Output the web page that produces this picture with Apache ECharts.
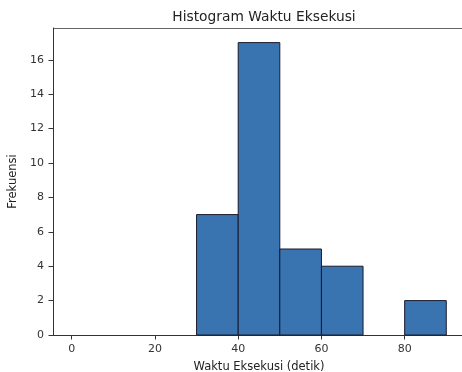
<!DOCTYPE html>
<html><head><meta charset="utf-8">
<script src="https://cdn.jsdelivr.net/npm/echarts@6/dist/echarts.min.js"></script>
<style>html,body{margin:0;padding:0;background:#fff}#c{width:462px;height:372px}</style>
</head><body><div id="c"></div>
<script>
const binStarts = [0, 10, 20, 30, 40, 50, 60, 70, 80];
const binWidth = 10;
const counts = [0, 0, 0, 7, 17, 5, 4, 0, 2];
const xTicks = [0, 20, 40, 60, 80];
const yTicks = [0, 2, 4, 6, 8, 10, 12, 14, 16];
const xMin = -4.5, xMax = 94.5, yMax = 17.85;

const data = binStarts.map((s, i) => [s, s + binWidth, counts[i]]);
const font = 'DejaVu Sans';
const axisColor = '#333';
const chart = echarts.init(document.getElementById('c'));
chart.setOption({
  animation: false,
  title: {
    text: 'Histogram Waktu Eksekusi', left: 259, top: 5, textAlign: 'center',
    textStyle: {fontFamily: font, fontSize: 13.8, fontWeight: 'normal', color: '#222'}
  },
  grid: {left: 53, top: 28, right: -3, bottom: 37, containLabel: false, outerBoundsMode: 'none'},
  xAxis: {
    type: 'value', min: xMin, max: xMax,
    name: 'Waktu Eksekusi (detik)', nameLocation: 'middle', nameGap: 26,
    nameTextStyle: {fontFamily: font, fontSize: 11.5, color: '#222'},
    axisLine: {show: true, onZero: false, lineStyle: {color: axisColor, width: 1}},
    axisTick: {show: true, length: 4.5, customValues: xTicks, lineStyle: {color: axisColor, width: 1}},
    axisLabel: {customValues: xTicks, fontFamily: font, fontSize: 11, color: '#333', margin: 9},
    splitLine: {show: false}
  },
  yAxis: {
    type: 'value', min: 0, max: yMax,
    name: 'Frekuensi', nameLocation: 'middle', nameGap: 27,
    nameTextStyle: {fontFamily: font, fontSize: 11.5, color: '#222'},
    axisLine: {show: true, onZero: false, lineStyle: {color: axisColor, width: 1}},
    axisTick: {show: true, length: 4.5, customValues: yTicks, lineStyle: {color: axisColor, width: 1}},
    axisLabel: {customValues: yTicks, fontFamily: font, fontSize: 11, color: '#333', margin: 9},
    splitLine: {show: false}
  },
  graphic: [{
    type: 'line', shape: {x1: 53, y1: 28.5, x2: 462, y2: 28.5},
    style: {stroke: '#666', lineWidth: 1}
  }],
  series: [{
    type: 'custom',
    data: data,
    renderItem: function (params, api) {
      const p0 = api.coord([api.value(0), api.value(2)]);
      const p1 = api.coord([api.value(1), 0]);
      if (api.value(2) <= 0) return null;
      return {
        type: 'rect',
        shape: {x: p0[0], y: p0[1], width: p1[0] - p0[0], height: p1[1] - p0[1]},
        style: {fill: '#3a74b0', stroke: '#1a1a2a', lineWidth: 1}
      };
    },
    encode: {x: [0, 1], y: 2}
  }]
});
</script></body></html>
